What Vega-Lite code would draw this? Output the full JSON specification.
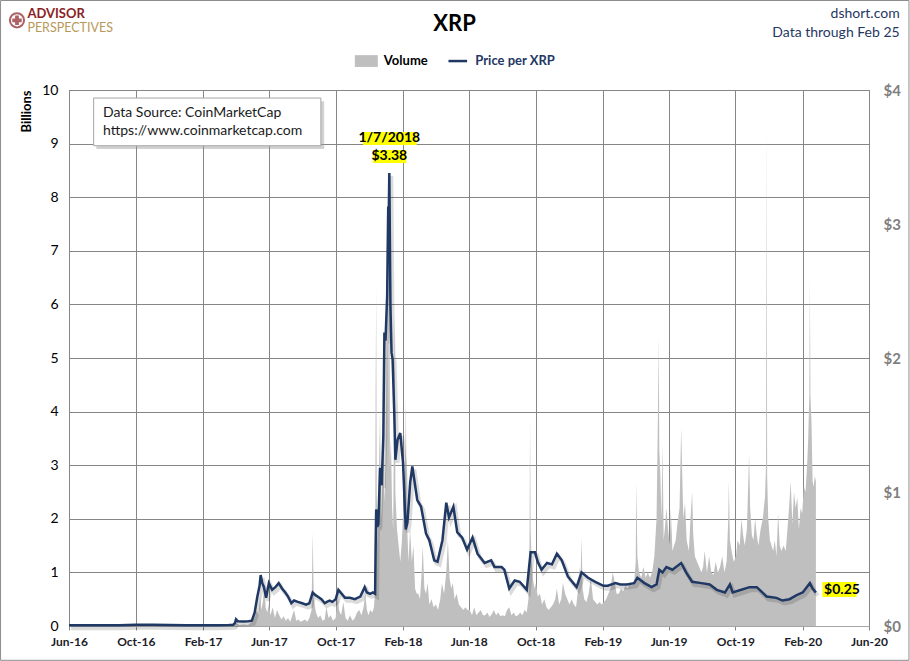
{
  "$schema": "https://vega.github.io/schema/vega-lite/v6.json",
  "width": 800,
  "height": 536,
  "autosize": "none",
  "padding": {"left": 69, "top": 90, "right": 41, "bottom": 35},
  "background": "white",
  "config": {"font": "Lato", "view": {"stroke": "#868686"}},
  "datasets": {
    "price": [
      {"date": "2016/06/01", "price": 0.006}, {"date": "2016/07/01", "price": 0.0065}, {"date": "2016/08/01", "price": 0.0062},
      {"date": "2016/09/01", "price": 0.0064}, {"date": "2016/10/01", "price": 0.009}, {"date": "2016/11/01", "price": 0.0085},
      {"date": "2016/12/01", "price": 0.007}, {"date": "2017/01/01", "price": 0.0065}, {"date": "2017/02/01", "price": 0.0062},
      {"date": "2017/03/01", "price": 0.0065}, {"date": "2017/03/20", "price": 0.008}, {"date": "2017/03/28", "price": 0.01},
      {"date": "2017/03/31", "price": 0.022}, {"date": "2017/04/02", "price": 0.05}, {"date": "2017/04/05", "price": 0.035},
      {"date": "2017/04/15", "price": 0.034}, {"date": "2017/04/25", "price": 0.036}, {"date": "2017/05/01", "price": 0.04},
      {"date": "2017/05/06", "price": 0.1}, {"date": "2017/05/11", "price": 0.22}, {"date": "2017/05/15", "price": 0.3},
      {"date": "2017/05/17", "price": 0.38}, {"date": "2017/05/20", "price": 0.32}, {"date": "2017/05/23", "price": 0.29},
      {"date": "2017/05/27", "price": 0.21}, {"date": "2017/06/01", "price": 0.32}, {"date": "2017/06/07", "price": 0.27},
      {"date": "2017/06/13", "price": 0.29}, {"date": "2017/06/19", "price": 0.32}, {"date": "2017/06/25", "price": 0.28},
      {"date": "2017/07/01", "price": 0.25}, {"date": "2017/07/06", "price": 0.22}, {"date": "2017/07/12", "price": 0.17},
      {"date": "2017/07/17", "price": 0.19}, {"date": "2017/07/24", "price": 0.18}, {"date": "2017/08/01", "price": 0.17},
      {"date": "2017/08/08", "price": 0.16}, {"date": "2017/08/14", "price": 0.17}, {"date": "2017/08/20", "price": 0.25},
      {"date": "2017/08/25", "price": 0.23}, {"date": "2017/08/29", "price": 0.22}, {"date": "2017/09/05", "price": 0.2},
      {"date": "2017/09/11", "price": 0.17}, {"date": "2017/09/15", "price": 0.18}, {"date": "2017/09/20", "price": 0.19},
      {"date": "2017/09/25", "price": 0.18}, {"date": "2017/10/01", "price": 0.2}, {"date": "2017/10/06", "price": 0.27},
      {"date": "2017/10/10", "price": 0.25}, {"date": "2017/10/18", "price": 0.21}, {"date": "2017/10/27", "price": 0.21},
      {"date": "2017/11/05", "price": 0.2}, {"date": "2017/11/15", "price": 0.22}, {"date": "2017/11/23", "price": 0.29},
      {"date": "2017/11/27", "price": 0.25}, {"date": "2017/12/03", "price": 0.24}, {"date": "2017/12/08", "price": 0.25},
      {"date": "2017/12/12", "price": 0.24}, {"date": "2017/12/13", "price": 0.6}, {"date": "2017/12/14", "price": 0.87},
      {"date": "2017/12/16", "price": 0.74}, {"date": "2017/12/18", "price": 0.76}, {"date": "2017/12/21", "price": 1.18},
      {"date": "2017/12/24", "price": 1.05}, {"date": "2017/12/27", "price": 1.41}, {"date": "2017/12/29", "price": 2.19},
      {"date": "2017/12/31", "price": 2.13}, {"date": "2018/01/03", "price": 2.46}, {"date": "2018/01/05", "price": 3.13},
      {"date": "2018/01/06", "price": 3.03}, {"date": "2018/01/07", "price": 3.38}, {"date": "2018/01/09", "price": 2.4},
      {"date": "2018/01/11", "price": 2.04}, {"date": "2018/01/13", "price": 1.99}, {"date": "2018/01/16", "price": 1.59},
      {"date": "2018/01/18", "price": 1.24}, {"date": "2018/01/22", "price": 1.39}, {"date": "2018/01/27", "price": 1.44},
      {"date": "2018/02/01", "price": 1.22}, {"date": "2018/02/06", "price": 0.72}, {"date": "2018/02/09", "price": 0.77},
      {"date": "2018/02/14", "price": 1.07}, {"date": "2018/02/18", "price": 1.19}, {"date": "2018/02/27", "price": 0.94},
      {"date": "2018/03/06", "price": 0.89}, {"date": "2018/03/15", "price": 0.69}, {"date": "2018/03/21", "price": 0.64},
      {"date": "2018/03/30", "price": 0.49}, {"date": "2018/04/05", "price": 0.48}, {"date": "2018/04/14", "price": 0.64},
      {"date": "2018/04/21", "price": 0.92}, {"date": "2018/04/26", "price": 0.81}, {"date": "2018/05/04", "price": 0.89},
      {"date": "2018/05/11", "price": 0.7}, {"date": "2018/05/20", "price": 0.66}, {"date": "2018/05/29", "price": 0.57},
      {"date": "2018/06/08", "price": 0.66}, {"date": "2018/06/17", "price": 0.54}, {"date": "2018/06/30", "price": 0.47},
      {"date": "2018/07/12", "price": 0.49}, {"date": "2018/07/18", "price": 0.44}, {"date": "2018/07/31", "price": 0.44},
      {"date": "2018/08/05", "price": 0.42}, {"date": "2018/08/14", "price": 0.28}, {"date": "2018/08/24", "price": 0.34},
      {"date": "2018/09/02", "price": 0.33}, {"date": "2018/09/15", "price": 0.27}, {"date": "2018/09/22", "price": 0.55},
      {"date": "2018/09/30", "price": 0.55}, {"date": "2018/10/05", "price": 0.48}, {"date": "2018/10/12", "price": 0.42},
      {"date": "2018/10/22", "price": 0.47}, {"date": "2018/10/31", "price": 0.46}, {"date": "2018/11/09", "price": 0.54},
      {"date": "2018/11/18", "price": 0.49}, {"date": "2018/11/29", "price": 0.37}, {"date": "2018/12/15", "price": 0.29},
      {"date": "2018/12/24", "price": 0.4}, {"date": "2019/01/05", "price": 0.36}, {"date": "2019/01/18", "price": 0.33},
      {"date": "2019/02/02", "price": 0.3}, {"date": "2019/02/10", "price": 0.3}, {"date": "2019/02/24", "price": 0.32},
      {"date": "2019/03/05", "price": 0.31}, {"date": "2019/03/17", "price": 0.31}, {"date": "2019/03/30", "price": 0.32},
      {"date": "2019/04/05", "price": 0.36}, {"date": "2019/04/18", "price": 0.32}, {"date": "2019/05/01", "price": 0.29},
      {"date": "2019/05/10", "price": 0.31}, {"date": "2019/05/15", "price": 0.42}, {"date": "2019/05/21", "price": 0.4},
      {"date": "2019/05/28", "price": 0.44}, {"date": "2019/06/08", "price": 0.42}, {"date": "2019/06/24", "price": 0.47},
      {"date": "2019/07/03", "price": 0.4}, {"date": "2019/07/14", "price": 0.33}, {"date": "2019/07/31", "price": 0.32},
      {"date": "2019/08/15", "price": 0.31}, {"date": "2019/08/28", "price": 0.27}, {"date": "2019/09/12", "price": 0.25},
      {"date": "2019/09/21", "price": 0.31}, {"date": "2019/09/26", "price": 0.25}, {"date": "2019/10/12", "price": 0.27},
      {"date": "2019/10/27", "price": 0.29}, {"date": "2019/11/09", "price": 0.29}, {"date": "2019/11/27", "price": 0.22},
      {"date": "2019/12/15", "price": 0.21}, {"date": "2019/12/26", "price": 0.19}, {"date": "2020/01/08", "price": 0.2},
      {"date": "2020/01/21", "price": 0.23}, {"date": "2020/02/01", "price": 0.25}, {"date": "2020/02/14", "price": 0.32},
      {"date": "2020/02/19", "price": 0.28}, {"date": "2020/02/25", "price": 0.25}
    ],
    "volume": [
      {"date": "2016/06/01", "volume": 0.001}, {"date": "2016/08/01", "volume": 0.002}, {"date": "2016/10/05", "volume": 0.008},
      {"date": "2016/11/01", "volume": 0.002}, {"date": "2017/01/01", "volume": 0.002}, {"date": "2017/03/01", "volume": 0.003},
      {"date": "2017/03/25", "volume": 0.01}, {"date": "2017/04/02", "volume": 0.06}, {"date": "2017/04/08", "volume": 0.02},
      {"date": "2017/04/16", "volume": 0.03}, {"date": "2017/04/24", "volume": 0.02}, {"date": "2017/04/29", "volume": 0.06},
      {"date": "2017/05/03", "volume": 0.1}, {"date": "2017/05/07", "volume": 0.18}, {"date": "2017/05/10", "volume": 0.3},
      {"date": "2017/05/13", "volume": 0.2}, {"date": "2017/05/16", "volume": 0.55}, {"date": "2017/05/18", "volume": 0.3},
      {"date": "2017/05/21", "volume": 0.45}, {"date": "2017/05/24", "volume": 0.8}, {"date": "2017/05/26", "volume": 0.35},
      {"date": "2017/05/29", "volume": 0.25}, {"date": "2017/06/01", "volume": 0.4}, {"date": "2017/06/04", "volume": 0.2},
      {"date": "2017/06/08", "volume": 0.35}, {"date": "2017/06/12", "volume": 0.15}, {"date": "2017/06/16", "volume": 0.3},
      {"date": "2017/06/20", "volume": 0.2}, {"date": "2017/06/24", "volume": 0.12}, {"date": "2017/06/28", "volume": 0.18},
      {"date": "2017/07/02", "volume": 0.1}, {"date": "2017/07/06", "volume": 0.15}, {"date": "2017/07/10", "volume": 0.08},
      {"date": "2017/07/14", "volume": 0.2}, {"date": "2017/07/17", "volume": 0.3}, {"date": "2017/07/21", "volume": 0.1},
      {"date": "2017/07/25", "volume": 0.12}, {"date": "2017/07/29", "volume": 0.08}, {"date": "2017/08/02", "volume": 0.1},
      {"date": "2017/08/06", "volume": 0.12}, {"date": "2017/08/10", "volume": 0.08}, {"date": "2017/08/14", "volume": 0.15},
      {"date": "2017/08/18", "volume": 0.3}, {"date": "2017/08/20", "volume": 1.75}, {"date": "2017/08/22", "volume": 0.5},
      {"date": "2017/08/26", "volume": 0.25}, {"date": "2017/08/30", "volume": 0.15}, {"date": "2017/09/03", "volume": 0.2},
      {"date": "2017/09/07", "volume": 0.1}, {"date": "2017/09/11", "volume": 0.12}, {"date": "2017/09/14", "volume": 0.35},
      {"date": "2017/09/18", "volume": 0.15}, {"date": "2017/09/22", "volume": 0.2}, {"date": "2017/09/26", "volume": 0.1},
      {"date": "2017/10/01", "volume": 0.15}, {"date": "2017/10/05", "volume": 0.6}, {"date": "2017/10/07", "volume": 0.3},
      {"date": "2017/10/11", "volume": 0.2}, {"date": "2017/10/15", "volume": 0.45}, {"date": "2017/10/19", "volume": 0.15},
      {"date": "2017/10/23", "volume": 0.1}, {"date": "2017/10/27", "volume": 0.2}, {"date": "2017/11/01", "volume": 0.1},
      {"date": "2017/11/05", "volume": 0.15}, {"date": "2017/11/09", "volume": 0.25}, {"date": "2017/11/13", "volume": 0.3},
      {"date": "2017/11/17", "volume": 0.2}, {"date": "2017/11/21", "volume": 0.35}, {"date": "2017/11/24", "volume": 0.6},
      {"date": "2017/11/27", "volume": 0.3}, {"date": "2017/11/30", "volume": 0.2}, {"date": "2017/12/03", "volume": 0.3},
      {"date": "2017/12/07", "volume": 0.25}, {"date": "2017/12/10", "volume": 0.35}, {"date": "2017/12/12", "volume": 0.7},
      {"date": "2017/12/13", "volume": 4.5}, {"date": "2017/12/14", "volume": 6.3}, {"date": "2017/12/15", "volume": 2.5},
      {"date": "2017/12/17", "volume": 1.5}, {"date": "2017/12/19", "volume": 2.8}, {"date": "2017/12/21", "volume": 4.0},
      {"date": "2017/12/23", "volume": 2.0}, {"date": "2017/12/25", "volume": 2.6}, {"date": "2017/12/27", "volume": 3.2},
      {"date": "2017/12/29", "volume": 2.3}, {"date": "2017/12/31", "volume": 3.0}, {"date": "2018/01/02", "volume": 5.0},
      {"date": "2018/01/03", "volume": 8.8}, {"date": "2018/01/04", "volume": 3.5}, {"date": "2018/01/05", "volume": 7.0},
      {"date": "2018/01/06", "volume": 4.0}, {"date": "2018/01/07", "volume": 8.6}, {"date": "2018/01/08", "volume": 3.0},
      {"date": "2018/01/10", "volume": 3.5}, {"date": "2018/01/12", "volume": 2.2}, {"date": "2018/01/14", "volume": 1.8},
      {"date": "2018/01/16", "volume": 4.2}, {"date": "2018/01/17", "volume": 5.8}, {"date": "2018/01/18", "volume": 2.5},
      {"date": "2018/01/21", "volume": 1.8}, {"date": "2018/01/24", "volume": 1.5}, {"date": "2018/01/27", "volume": 1.2},
      {"date": "2018/01/30", "volume": 1.6}, {"date": "2018/02/02", "volume": 2.3}, {"date": "2018/02/05", "volume": 2.9},
      {"date": "2018/02/06", "volume": 4.3}, {"date": "2018/02/08", "volume": 2.0}, {"date": "2018/02/11", "volume": 1.2},
      {"date": "2018/02/14", "volume": 1.8}, {"date": "2018/02/17", "volume": 1.2}, {"date": "2018/02/20", "volume": 1.5},
      {"date": "2018/02/23", "volume": 0.7}, {"date": "2018/02/26", "volume": 0.6}, {"date": "2018/03/01", "volume": 0.6},
      {"date": "2018/03/04", "volume": 0.5}, {"date": "2018/03/07", "volume": 1.0}, {"date": "2018/03/09", "volume": 1.5},
      {"date": "2018/03/12", "volume": 0.7}, {"date": "2018/03/15", "volume": 0.6}, {"date": "2018/03/18", "volume": 0.8},
      {"date": "2018/03/21", "volume": 0.4}, {"date": "2018/03/25", "volume": 0.5}, {"date": "2018/03/29", "volume": 0.35},
      {"date": "2018/04/02", "volume": 0.4}, {"date": "2018/04/06", "volume": 0.3}, {"date": "2018/04/10", "volume": 0.5},
      {"date": "2018/04/13", "volume": 0.8}, {"date": "2018/04/17", "volume": 0.6}, {"date": "2018/04/21", "volume": 1.0},
      {"date": "2018/04/24", "volume": 1.6}, {"date": "2018/04/27", "volume": 0.9}, {"date": "2018/04/30", "volume": 0.7},
      {"date": "2018/05/03", "volume": 0.8}, {"date": "2018/05/06", "volume": 0.5}, {"date": "2018/05/10", "volume": 0.6},
      {"date": "2018/05/14", "volume": 0.4}, {"date": "2018/05/18", "volume": 0.35}, {"date": "2018/05/22", "volume": 0.3},
      {"date": "2018/05/26", "volume": 0.35}, {"date": "2018/05/30", "volume": 0.3}, {"date": "2018/06/03", "volume": 0.3},
      {"date": "2018/06/07", "volume": 0.2}, {"date": "2018/06/11", "volume": 0.35}, {"date": "2018/06/15", "volume": 0.2},
      {"date": "2018/06/19", "volume": 0.25}, {"date": "2018/06/23", "volume": 0.3}, {"date": "2018/06/27", "volume": 0.2},
      {"date": "2018/07/01", "volume": 0.2}, {"date": "2018/07/05", "volume": 0.25}, {"date": "2018/07/09", "volume": 0.17},
      {"date": "2018/07/13", "volume": 0.22}, {"date": "2018/07/17", "volume": 0.3}, {"date": "2018/07/21", "volume": 0.2},
      {"date": "2018/07/25", "volume": 0.25}, {"date": "2018/07/29", "volume": 0.18}, {"date": "2018/08/02", "volume": 0.2},
      {"date": "2018/08/06", "volume": 0.18}, {"date": "2018/08/10", "volume": 0.3}, {"date": "2018/08/14", "volume": 0.35},
      {"date": "2018/08/18", "volume": 0.2}, {"date": "2018/08/22", "volume": 0.25}, {"date": "2018/08/26", "volume": 0.18},
      {"date": "2018/08/30", "volume": 0.2}, {"date": "2018/09/03", "volume": 0.25}, {"date": "2018/09/07", "volume": 0.2},
      {"date": "2018/09/11", "volume": 0.3}, {"date": "2018/09/15", "volume": 0.25}, {"date": "2018/09/18", "volume": 0.5},
      {"date": "2018/09/20", "volume": 1.5}, {"date": "2018/09/21", "volume": 3.9}, {"date": "2018/09/22", "volume": 1.8},
      {"date": "2018/09/24", "volume": 1.2}, {"date": "2018/09/26", "volume": 0.9}, {"date": "2018/09/29", "volume": 0.7},
      {"date": "2018/10/02", "volume": 0.8}, {"date": "2018/10/05", "volume": 0.55}, {"date": "2018/10/09", "volume": 0.6},
      {"date": "2018/10/13", "volume": 0.4}, {"date": "2018/10/17", "volume": 0.5}, {"date": "2018/10/21", "volume": 0.35},
      {"date": "2018/10/25", "volume": 0.3}, {"date": "2018/10/29", "volume": 0.35}, {"date": "2018/11/02", "volume": 0.4},
      {"date": "2018/11/06", "volume": 0.5}, {"date": "2018/11/09", "volume": 0.7}, {"date": "2018/11/13", "volume": 0.4},
      {"date": "2018/11/17", "volume": 0.5}, {"date": "2018/11/20", "volume": 0.8}, {"date": "2018/11/24", "volume": 0.6},
      {"date": "2018/11/28", "volume": 0.5}, {"date": "2018/12/02", "volume": 0.4}, {"date": "2018/12/06", "volume": 0.5},
      {"date": "2018/12/10", "volume": 0.4}, {"date": "2018/12/14", "volume": 0.35}, {"date": "2018/12/18", "volume": 0.7},
      {"date": "2018/12/20", "volume": 1.1}, {"date": "2018/12/22", "volume": 0.8}, {"date": "2018/12/24", "volume": 1.65},
      {"date": "2018/12/26", "volume": 0.7}, {"date": "2018/12/29", "volume": 0.5}, {"date": "2019/01/02", "volume": 0.45},
      {"date": "2019/01/06", "volume": 0.6}, {"date": "2019/01/10", "volume": 0.9}, {"date": "2019/01/14", "volume": 0.5},
      {"date": "2019/01/18", "volume": 0.45}, {"date": "2019/01/22", "volume": 0.4}, {"date": "2019/01/26", "volume": 0.45},
      {"date": "2019/01/30", "volume": 0.4}, {"date": "2019/02/03", "volume": 0.45}, {"date": "2019/02/07", "volume": 0.5},
      {"date": "2019/02/11", "volume": 0.6}, {"date": "2019/02/15", "volume": 0.7}, {"date": "2019/02/19", "volume": 1.0},
      {"date": "2019/02/23", "volume": 0.8}, {"date": "2019/02/26", "volume": 0.6}, {"date": "2019/03/02", "volume": 0.6},
      {"date": "2019/03/06", "volume": 0.7}, {"date": "2019/03/10", "volume": 0.65}, {"date": "2019/03/14", "volume": 0.75},
      {"date": "2019/03/18", "volume": 0.7}, {"date": "2019/03/22", "volume": 0.8}, {"date": "2019/03/26", "volume": 0.75},
      {"date": "2019/03/30", "volume": 0.8}, {"date": "2019/04/02", "volume": 1.2}, {"date": "2019/04/03", "volume": 2.7},
      {"date": "2019/04/05", "volume": 1.3}, {"date": "2019/04/08", "volume": 1.0}, {"date": "2019/04/12", "volume": 0.9},
      {"date": "2019/04/16", "volume": 1.1}, {"date": "2019/04/20", "volume": 0.9}, {"date": "2019/04/24", "volume": 1.0},
      {"date": "2019/04/28", "volume": 0.9}, {"date": "2019/05/02", "volume": 1.0}, {"date": "2019/05/06", "volume": 1.3},
      {"date": "2019/05/10", "volume": 2.0}, {"date": "2019/05/12", "volume": 3.5}, {"date": "2019/05/14", "volume": 5.4},
      {"date": "2019/05/15", "volume": 3.3}, {"date": "2019/05/17", "volume": 2.8}, {"date": "2019/05/19", "volume": 2.0},
      {"date": "2019/05/21", "volume": 3.4}, {"date": "2019/05/23", "volume": 1.6}, {"date": "2019/05/25", "volume": 1.8},
      {"date": "2019/05/28", "volume": 2.2}, {"date": "2019/05/31", "volume": 1.8}, {"date": "2019/06/03", "volume": 1.5},
      {"date": "2019/06/05", "volume": 2.2}, {"date": "2019/06/08", "volume": 1.4}, {"date": "2019/06/11", "volume": 1.5},
      {"date": "2019/06/14", "volume": 1.6}, {"date": "2019/06/17", "volume": 1.9}, {"date": "2019/06/21", "volume": 2.2},
      {"date": "2019/06/24", "volume": 3.7}, {"date": "2019/06/26", "volume": 2.8}, {"date": "2019/06/28", "volume": 2.0},
      {"date": "2019/07/01", "volume": 2.3}, {"date": "2019/07/04", "volume": 1.6}, {"date": "2019/07/08", "volume": 1.4},
      {"date": "2019/07/11", "volume": 2.0}, {"date": "2019/07/14", "volume": 2.5}, {"date": "2019/07/16", "volume": 1.7},
      {"date": "2019/07/19", "volume": 1.3}, {"date": "2019/07/23", "volume": 1.2}, {"date": "2019/07/27", "volume": 1.1},
      {"date": "2019/07/31", "volume": 1.0}, {"date": "2019/08/03", "volume": 1.1}, {"date": "2019/08/06", "volume": 1.4},
      {"date": "2019/08/10", "volume": 1.0}, {"date": "2019/08/14", "volume": 1.3}, {"date": "2019/08/18", "volume": 1.0},
      {"date": "2019/08/22", "volume": 0.95}, {"date": "2019/08/26", "volume": 1.2}, {"date": "2019/08/30", "volume": 1.0},
      {"date": "2019/09/03", "volume": 1.1}, {"date": "2019/09/07", "volume": 1.3}, {"date": "2019/09/11", "volume": 1.0},
      {"date": "2019/09/15", "volume": 1.2}, {"date": "2019/09/18", "volume": 2.0}, {"date": "2019/09/19", "volume": 2.7},
      {"date": "2019/09/21", "volume": 1.6}, {"date": "2019/09/24", "volume": 1.4}, {"date": "2019/09/28", "volume": 1.2},
      {"date": "2019/10/02", "volume": 1.3}, {"date": "2019/10/05", "volume": 1.6}, {"date": "2019/10/09", "volume": 1.5},
      {"date": "2019/10/12", "volume": 2.0}, {"date": "2019/10/15", "volume": 1.7}, {"date": "2019/10/18", "volume": 1.5},
      {"date": "2019/10/22", "volume": 1.8}, {"date": "2019/10/26", "volume": 3.2}, {"date": "2019/10/28", "volume": 2.2},
      {"date": "2019/10/31", "volume": 1.7}, {"date": "2019/11/03", "volume": 1.6}, {"date": "2019/11/06", "volume": 2.0},
      {"date": "2019/11/09", "volume": 1.7}, {"date": "2019/11/12", "volume": 1.5}, {"date": "2019/11/16", "volume": 1.8},
      {"date": "2019/11/20", "volume": 2.0}, {"date": "2019/11/24", "volume": 2.4}, {"date": "2019/11/26", "volume": 3.0},
      {"date": "2019/11/27", "volume": 9.4}, {"date": "2019/11/28", "volume": 2.8}, {"date": "2019/11/30", "volume": 2.0},
      {"date": "2019/12/03", "volume": 1.6}, {"date": "2019/12/06", "volume": 1.5}, {"date": "2019/12/09", "volume": 1.4},
      {"date": "2019/12/12", "volume": 1.6}, {"date": "2019/12/15", "volume": 1.3}, {"date": "2019/12/18", "volume": 2.1},
      {"date": "2019/12/21", "volume": 1.5}, {"date": "2019/12/24", "volume": 1.4}, {"date": "2019/12/28", "volume": 1.5},
      {"date": "2020/01/01", "volume": 1.4}, {"date": "2020/01/04", "volume": 1.8}, {"date": "2020/01/07", "volume": 2.2},
      {"date": "2020/01/10", "volume": 2.7}, {"date": "2020/01/13", "volume": 1.9}, {"date": "2020/01/16", "volume": 2.5},
      {"date": "2020/01/19", "volume": 2.2}, {"date": "2020/01/22", "volume": 2.4}, {"date": "2020/01/25", "volume": 1.8},
      {"date": "2020/01/28", "volume": 2.2}, {"date": "2020/01/31", "volume": 2.1}, {"date": "2020/02/03", "volume": 2.6},
      {"date": "2020/02/06", "volume": 2.5}, {"date": "2020/02/09", "volume": 3.0}, {"date": "2020/02/11", "volume": 3.5},
      {"date": "2020/02/13", "volume": 4.3}, {"date": "2020/02/14", "volume": 6.5}, {"date": "2020/02/15", "volume": 4.3},
      {"date": "2020/02/17", "volume": 3.8}, {"date": "2020/02/19", "volume": 2.7}, {"date": "2020/02/21", "volume": 2.6},
      {"date": "2020/02/23", "volume": 2.8}, {"date": "2020/02/25", "volume": 2.7}
    ]
  },
  "encoding": {
    "x": {
      "field": "date",
      "type": "temporal",
      "scale": {"domain": [{"year": 2016, "month": 6, "date": 1}, {"year": 2020, "month": 6, "date": 1}]},
      "axis": {
        "values": [
          {"year": 2016, "month": 6, "date": 1}, {"year": 2016, "month": 10, "date": 1}, {"year": 2017, "month": 2, "date": 1},
          {"year": 2017, "month": 6, "date": 1}, {"year": 2017, "month": 10, "date": 1}, {"year": 2018, "month": 2, "date": 1},
          {"year": 2018, "month": 6, "date": 1}, {"year": 2018, "month": 10, "date": 1}, {"year": 2019, "month": 2, "date": 1},
          {"year": 2019, "month": 6, "date": 1}, {"year": 2019, "month": 10, "date": 1}, {"year": 2020, "month": 2, "date": 1},
          {"year": 2020, "month": 6, "date": 1}
        ],
        "format": "%b-%y",
        "title": null,
        "labelFont": "Lato",
        "labelFontSize": 12,
        "labelFontWeight": "bold",
        "labelColor": "#1c1c28",
        "labelPadding": 6,
        "labelFlush": false,
        "labelOverlap": false,
        "grid": true,
        "gridColor": "#868686",
        "tickColor": "#868686",
        "tickSize": 4,
        "domainColor": "#A6A6A6"
      }
    }
  },
  "layer": [
    {
      "layer": [
        {
          "data": {"name": "volume"},
          "mark": {"type": "area", "color": "#BFBFBF", "interpolate": "linear"},
          "encoding": {
            "y": {
              "field": "volume",
              "type": "quantitative",
              "scale": {"domain": [0, 10]},
              "axis": {
                "values": [0, 1, 2, 3, 4, 5, 6, 7, 8, 9, 10],
                "grid": true,
                "gridColor": "#868686",
                "ticks": false,
                "domain": false,
                "labelFont": "Lato",
                "labelFontSize": 14,
                "labelColor": "black",
                "labelPadding": 11,
                "title": "Billions",
                "titleFont": "Lato",
                "titleFontSize": 13,
                "titleFontWeight": "bold",
                "titleColor": "black",
                "titleAnchor": "end",
                "titlePadding": 8
              }
            }
          }
        },
        {
          "data": {"values": [{"date": "2016/07/21", "date2": "2017/09/10", "volume": 9.79, "volume2": 8.9}]},
          "mark": {"type": "rect", "fill": "#9a9a9a", "opacity": 0.45},
          "encoding": {
            "x2": {"field": "date2"},
            "y": {"field": "volume", "type": "quantitative"},
            "y2": {"field": "volume2"}
          }
        },
        {
          "data": {"values": [{"date": "2016/07/16", "date2": "2017/09/04", "volume": 9.85, "volume2": 8.96}]},
          "mark": {"type": "rect", "fill": "white", "stroke": "#A6A6A6", "strokeWidth": 1},
          "encoding": {
            "x2": {"field": "date2"},
            "y": {"field": "volume", "type": "quantitative"},
            "y2": {"field": "volume2"}
          }
        },
        {
          "data": {"values": [
            {"date": "2016/08/02", "volume": 9.57, "label": "Data Source: CoinMarketCap"},
            {"date": "2016/08/02", "volume": 9.24, "label": "https://www.coinmarketcap.com"}
          ]},
          "mark": {"type": "text", "align": "left", "baseline": "middle", "fontSize": 14, "color": "#1a1a1a", "font": "Lato"},
          "encoding": {
            "y": {"field": "volume", "type": "quantitative"},
            "text": {"field": "label"}
          }
        },
        {
          "data": {"values": [{"date": "2018/05/06", "volume": 11.23, "label": "XRP"}]},
          "mark": {"type": "text", "align": "center", "baseline": "middle", "fontSize": 22, "fontWeight": "bold", "color": "black", "font": "Lato"},
          "encoding": {
            "y": {"field": "volume", "type": "quantitative"},
            "text": {"field": "label"}
          }
        },
        {
          "data": {"values": [{"date": "2017/11/05", "date2": "2017/12/17", "volume": 10.65, "volume2": 10.43}]},
          "mark": {"type": "rect", "fill": "#BFBFBF"},
          "encoding": {
            "x2": {"field": "date2"},
            "y": {"field": "volume", "type": "quantitative"},
            "y2": {"field": "volume2"}
          }
        },
        {
          "data": {"values": [{"date": "2017/12/28", "volume": 10.54, "label": "Volume"}]},
          "mark": {"type": "text", "align": "left", "baseline": "middle", "fontSize": 13, "fontWeight": "bold", "color": "black", "font": "Lato"},
          "encoding": {
            "y": {"field": "volume", "type": "quantitative"},
            "text": {"field": "label"}
          }
        },
        {
          "data": {"values": [{"date": "2018/04/25", "date2": "2018/05/29", "volume": 10.54}]},
          "mark": {"type": "rule", "color": "#1F3864", "strokeWidth": 2.5},
          "encoding": {
            "x2": {"field": "date2"},
            "y": {"field": "volume", "type": "quantitative"}
          }
        },
        {
          "data": {"values": [{"date": "2018/06/13", "volume": 10.54, "label": "Price per XRP"}]},
          "mark": {"type": "text", "align": "left", "baseline": "middle", "fontSize": 13, "fontWeight": "bold", "color": "#1F3864", "font": "Lato"},
          "encoding": {
            "y": {"field": "volume", "type": "quantitative"},
            "text": {"field": "label"}
          }
        },
        {
          "data": {"values": [
            {"date": "2020/07/27", "volume": 11.42, "label": "dshort.com"},
            {"date": "2020/07/27", "volume": 11.07, "label": "Data through Feb 25"}
          ]},
          "mark": {"type": "text", "align": "right", "baseline": "middle", "fontSize": 14, "color": "#1F3864", "font": "Lato"},
          "encoding": {
            "y": {"field": "volume", "type": "quantitative"},
            "text": {"field": "label"}
          }
        },
        {
          "data": {"values": [{"date": "2016/02/27", "volume": 11.3}]},
          "mark": {"type": "point", "shape": "circle", "size": 200, "stroke": "#8B1E24", "strokeWidth": 2, "filled": false},
          "encoding": {
            "y": {"field": "volume", "type": "quantitative"}
          }
        },
        {
          "data": {"values": [{"date": "2016/02/27", "volume": 11.3}]},
          "mark": {"type": "point", "shape": "cross", "size": 90, "color": "#8B1E24", "filled": true},
          "encoding": {
            "y": {"field": "volume", "type": "quantitative"}
          }
        },
        {
          "data": {"values": [{"date": "2016/03/17", "volume": 11.42, "label": "ADVISOR"}]},
          "mark": {"type": "text", "align": "left", "baseline": "middle", "fontSize": 13, "fontWeight": "bold", "color": "#8B1E24", "font": "Lato"},
          "encoding": {
            "y": {"field": "volume", "type": "quantitative"},
            "text": {"field": "label"}
          }
        },
        {
          "data": {"values": [{"date": "2016/03/17", "volume": 11.155, "label": "PERSPECTIVES"}]},
          "mark": {"type": "text", "align": "left", "baseline": "middle", "fontSize": 12.5, "color": "#B8995A", "font": "Lato"},
          "encoding": {
            "y": {"field": "volume", "type": "quantitative"},
            "text": {"field": "label"}
          }
        },
        {
          "data": {"values": [{"date": "2016/01/28", "date2": "2020/08/13", "volume": 11.67, "volume2": -0.64}]},
          "mark": {"type": "rect", "fill": null, "stroke": "#8C8C8C", "strokeWidth": 1},
          "encoding": {
            "x2": {"field": "date2"},
            "y": {"field": "volume", "type": "quantitative"},
            "y2": {"field": "volume2"}
          }
        }
      ]
    },
    {
      "layer": [
        {
          "data": {"name": "price"},
          "mark": {"type": "line", "color": "#000000", "opacity": 0.14, "strokeWidth": 4, "xOffset": 2, "yOffset": 3},
          "encoding": {
            "y": {
              "field": "price",
              "type": "quantitative",
              "scale": {"domain": [0, 4]},
              "axis": {
                "orient": "right",
                "values": [0, 1, 2, 3, 4],
                "format": "$.0f",
                "grid": false,
                "ticks": false,
                "domain": false,
                "labelFont": "Lato",
                "labelFontSize": 15,
                "labelFontWeight": "bold",
                "labelColor": "#7F7F7F",
                "labelPadding": 14,
                "title": null
              }
            }
          }
        },
        {
          "data": {"name": "price"},
          "mark": {"type": "line", "color": "#1F3864", "strokeWidth": 2.5},
          "encoding": {
            "y": {"field": "price", "type": "quantitative"}
          }
        },
        {
          "data": {"values": [
            {"date": "2017/11/20", "date2": "2018/02/26", "price": 3.687, "price2": 3.59},
            {"date": "2017/12/08", "date2": "2018/02/07", "price": 3.552, "price2": 3.455},
            {"date": "2020/03/08", "date2": "2020/05/09", "price": 0.328, "price2": 0.216}
          ]},
          "mark": {"type": "rect", "fill": "#FFFF00"},
          "encoding": {
            "x2": {"field": "date2"},
            "y": {"field": "price", "type": "quantitative"},
            "y2": {"field": "price2"}
          }
        },
        {
          "data": {"values": [
            {"date": "2018/01/07", "price": 3.64, "label": "1/7/2018"},
            {"date": "2018/01/07", "price": 3.505, "label": "$3.38"}
          ]},
          "mark": {"type": "text", "align": "center", "baseline": "middle", "fontSize": 14, "fontWeight": "bold", "color": "black", "font": "Lato"},
          "encoding": {
            "y": {"field": "price", "type": "quantitative"},
            "text": {"field": "label"}
          }
        },
        {
          "data": {"values": [{"date": "2020/03/11", "price": 0.27, "label": "$0.25"}]},
          "mark": {"type": "text", "align": "left", "baseline": "middle", "fontSize": 14, "fontWeight": "bold", "color": "black", "font": "Lato"},
          "encoding": {
            "y": {"field": "price", "type": "quantitative"},
            "text": {"field": "label"}
          }
        }
      ]
    }
  ],
  "resolve": {"scale": {"y": "independent"}, "axis": {"y": "independent"}}
}
